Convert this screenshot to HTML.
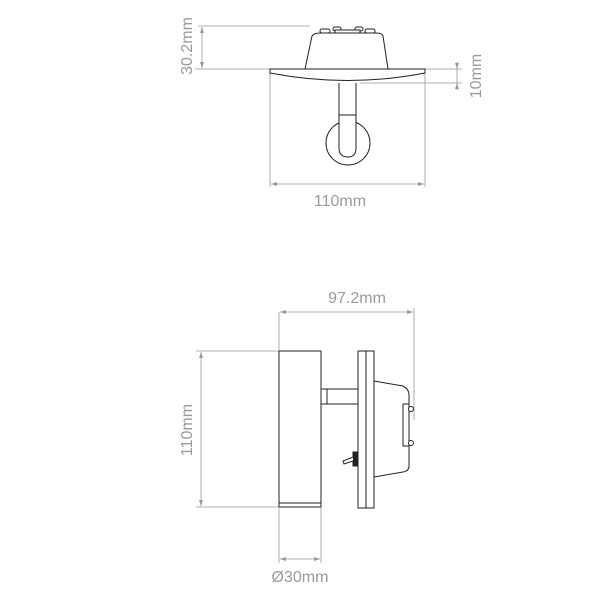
<!DOCTYPE html>
<html><head><style>body{margin:0;background:#fff}svg{display:block}</style></head><body>
<svg width="600" height="600" viewBox="0 0 600 600" xmlns="http://www.w3.org/2000/svg" font-family="Liberation Sans, sans-serif">
<g stroke="#999" stroke-width="0.8" fill="none">
<line x1="198" y1="26" x2="310" y2="26"/>
<line x1="195" y1="69" x2="270" y2="69"/>
<line x1="202" y1="27" x2="202" y2="68"/>
<line x1="425" y1="69" x2="462" y2="69"/>
<line x1="360" y1="83" x2="462" y2="83"/>
<line x1="457" y1="62" x2="457" y2="90"/>
<line x1="270" y1="72" x2="270" y2="187"/>
<line x1="425" y1="72" x2="425" y2="187"/>
<line x1="271" y1="184" x2="424" y2="184"/>
<line x1="279" y1="312" x2="279" y2="350"/>
<line x1="414" y1="308" x2="414" y2="420"/>
<line x1="280" y1="312" x2="413" y2="312"/>
<line x1="196" y1="351" x2="279" y2="351"/>
<line x1="196" y1="507" x2="279" y2="507"/>
<line x1="201" y1="352" x2="201" y2="506"/>
<line x1="279" y1="508" x2="279" y2="563"/>
<line x1="321" y1="508" x2="321" y2="563"/>
<line x1="280" y1="559" x2="320" y2="559"/>
</g>
<g fill="#999">
<path d="M202,27 l-2,6 h4z M202,68 l-2,-6 h4z M457,69 l-2,-6 h4z M457,83 l-2,6 h4z M271,184 l6,-2 v4z M424,184 l-6,-2 v4z M280,312 l6,-2 v4z M413,312 l-6,-2 v4z M201,352 l-2,6 h4z M201,506 l-2,-6 h4z M280,559 l6,-2 v4z M320,559 l-6,-2 v4z"/>
</g>
<g fill="#9a9a9a" font-size="16">
<text x="340" y="206" text-anchor="middle">110mm</text>
<text x="357" y="303" text-anchor="middle">97.2mm</text>
<text x="300" y="582" text-anchor="middle">Ø30mm</text>
<text transform="translate(192,46) rotate(-90)" text-anchor="middle">30.2mm</text>
<text transform="translate(481,76) rotate(-90)" text-anchor="middle">10mm</text>
<text transform="translate(192,430) rotate(-90)" text-anchor="middle">110mm</text>
</g>
<g stroke="#222" stroke-width="1" fill="#fff">
<path d="M305,69 L312,36 Q314,33 320,33 L376,33 Q382,33 383,36 L388,69"/>
<rect x="320" y="29" width="10" height="4" rx="2"/><rect x="333" y="27" width="8" height="4" rx="2"/><rect x="355" y="27" width="8" height="4" rx="2"/><rect x="365" y="29" width="10" height="4" rx="2"/><rect x="335" y="30" width="25" height="3"/>
<circle cx="348" cy="143" r="22"/>
<path d="M339,83 V148 Q339,157 348,157 Q356,157 356,148 V83"/>
<line x1="339" y1="115" x2="356" y2="115"/>
<path d="M270,69 H425 V73 Q348,88 270,73 Z"/>
<rect x="279" y="351" width="42" height="156"/>
<line x1="279" y1="503" x2="321" y2="503"/>
<rect x="321" y="389" width="37" height="15"/>
<line x1="327" y1="389" x2="327" y2="404"/>
<path d="M374,381 L403,386 Q409,389 409,395 V466 Q409,471 403,472 L374,477 Z"/>
<rect x="403" y="404" width="6" height="42"/>
<circle cx="411" cy="409" r="2.5"/><circle cx="411" cy="443" r="2.5"/>
<rect x="358" y="351" width="16" height="157"/>
<line x1="366" y1="351" x2="366" y2="508"/>
<rect x="353" y="452" width="5" height="14" fill="#222"/>
<path d="M353,457 L343,461 L344,464 L353,461"/>
</g>
</svg>
</body></html>
